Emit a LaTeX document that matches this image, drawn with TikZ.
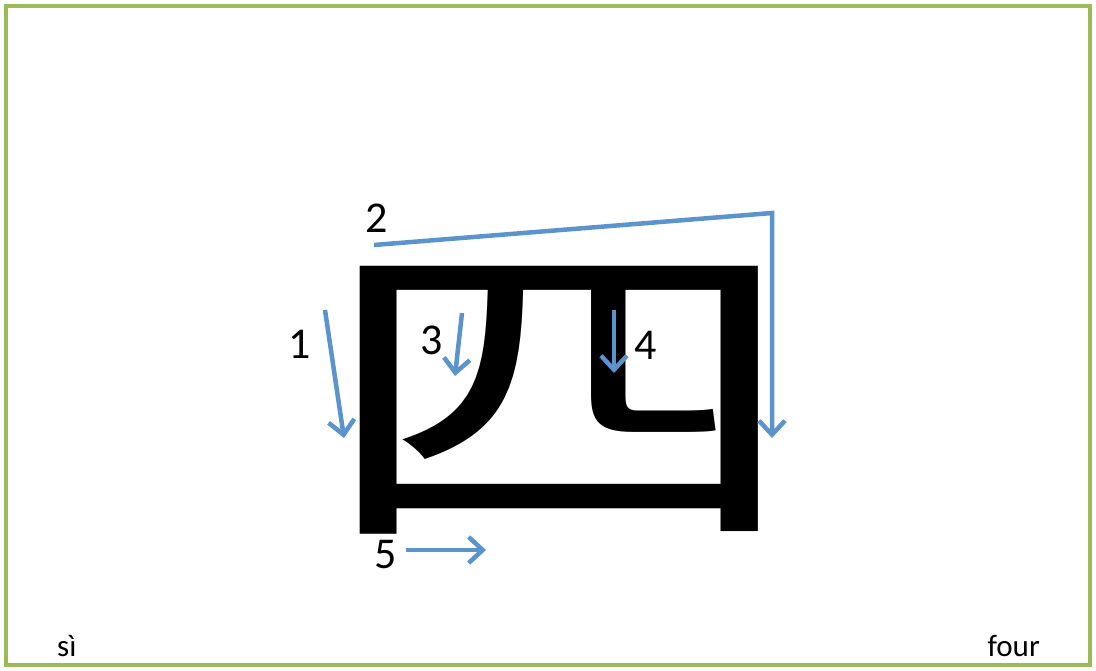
\documentclass[tikz,border=0pt]{standalone}
\usepackage{fontspec}
\setmainfont{Carlito}
\newfontfamily\cjk{Noto Sans CJK SC}
\usetikzlibrary{arrows.meta}
\definecolor{frame}{HTML}{9BBB59}
\definecolor{stroke}{HTML}{5B93CC}
\begin{document}
\begin{tikzpicture}[x=1pt, y=-1pt,
  order/.style={font=\fontsize{44}{44}\selectfont, inner sep=0pt},
  gloss/.style={font=\fontsize{31}{31}\selectfont, inner sep=0pt},
  move/.style={line width=4.5pt, draw=stroke, -{Straight Barb[length=14pt,width=26pt]}}]
  \useasboundingbox (0,0) rectangle (1096,670);
  \draw[frame, line width=4pt] (6,6) rectangle (1090,665);
  \node[inner sep=0pt] (char) at (560,400)
    {\scalebox{0.97}[0.67]{\cjk\fontsize{500}{500}\selectfont 四}};
  % stroke order
  \node[order] (n1) at (300,344) {1};
  \node[order] (n2) at (377,218) {2};
  \node[order] (n3) at (432,340) {3};
  \node[order] (n4) at (646,345) {4};
  \node[order] (n5) at (386,555) {5};
  \coordinate (a1) at (325,310);
  \coordinate (b1) at (344,438);
  \coordinate (a2) at (374,245);
  \coordinate (k2) at (772,213);
  \coordinate (b2) at (772,438);
  \coordinate (a3) at (462,313);
  \coordinate (b3) at (455,376);
  \coordinate (a4) at (614,310);
  \coordinate (b4) at (614,373);
  \coordinate (a5) at (406,550);
  \coordinate (b5) at (486,550);
  \draw[move] (a1) -- (b1);
  \draw[move] (a2) -- (k2) -- (b2);
  \draw[move] (a3) -- (b3);
  \draw[move] (a4) -- (b4);
  \draw[move] (a5) -- (b5);
  % reading and meaning
  \node[gloss, anchor=base west] (pinyin) at (57,656) {sì};
  \node[gloss, anchor=base east] (meaning) at (1040,656) {four};
\end{tikzpicture}
\end{document}
